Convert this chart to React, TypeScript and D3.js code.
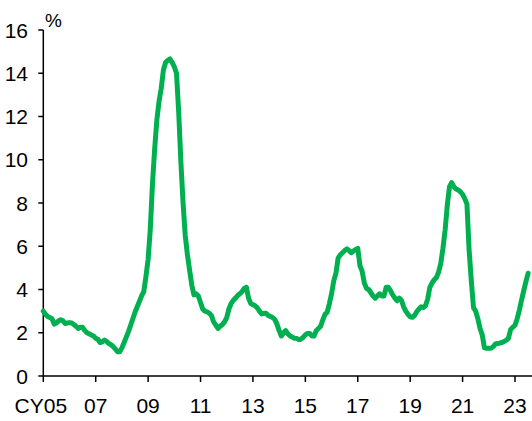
import React, { useRef, useEffect } from 'react';
import * as d3 from 'd3';

// monthly rate, %, Jan of each year onwards
const y2005 = [3.0, 2.85, 2.75, 2.7, 2.65, 2.4, 2.45, 2.55, 2.6, 2.55, 2.43, 2.45];
const y2006 = [2.47, 2.45, 2.38, 2.3, 2.2, 2.25, 2.25, 2.1, 2.0, 1.95, 1.9, 1.85];
const y2007 = [1.75, 1.7, 1.55, 1.58, 1.66, 1.6, 1.5, 1.45, 1.36, 1.25, 1.12, 1.12];
const y2008 = [1.3, 1.55, 1.8, 2.05, 2.35, 2.65, 2.95, 3.2, 3.45, 3.7, 3.9, 4.6];
const y2009 = [5.4, 6.8, 8.9, 10.5, 11.84, 12.7, 13.3, 14.15, 14.5, 14.6, 14.66, 14.5];
const y2010 = [14.3, 14.0, 12.2, 9.9, 8.0, 6.5, 5.6, 4.9, 4.2, 3.75, 3.8, 3.7];
const y2011 = [3.4, 3.1, 3.0, 2.97, 2.9, 2.8, 2.5, 2.35, 2.2, 2.3, 2.38, 2.5];
const y2012 = [2.7, 3.1, 3.35, 3.5, 3.6, 3.72, 3.8, 3.9, 4.05, 4.1, 3.6, 3.35];
const y2013 = [3.3, 3.25, 3.15, 3.0, 2.87, 2.9, 2.9, 2.8, 2.75, 2.7, 2.62, 2.4];
const y2014 = [2.1, 1.85, 2.0, 2.1, 1.95, 1.85, 1.8, 1.75, 1.74, 1.68, 1.7, 1.79];
const y2015 = [1.9, 1.97, 1.97, 1.85, 1.85, 2.1, 2.2, 2.3, 2.6, 2.85, 2.95, 3.35];
const y2016 = [3.8, 4.4, 4.75, 5.45, 5.6, 5.7, 5.8, 5.88, 5.8, 5.7, 5.78, 5.85];
const y2017 = [5.9, 5.1, 4.85, 4.3, 4.05, 4.0, 3.85, 3.7, 3.6, 3.7, 3.8, 3.7];
const y2018 = [3.7, 4.1, 4.1, 3.95, 3.75, 3.6, 3.48, 3.6, 3.5, 3.2, 3.0, 2.85];
const y2019 = [2.74, 2.72, 2.8, 2.97, 3.1, 3.2, 3.17, 3.25, 3.55, 4.1, 4.3, 4.45];
const y2020 = [4.55, 4.8, 5.2, 5.9, 6.75, 7.9, 8.75, 8.94, 8.75, 8.65, 8.6, 8.52];
const y2021 = [8.4, 8.2, 7.95, 5.8, 4.4, 3.15, 3.0, 2.65, 2.2, 1.9, 1.3, 1.28];
const y2022 = [1.28, 1.28, 1.35, 1.48, 1.5, 1.52, 1.55, 1.6, 1.65, 1.75, 2.15, 2.25];
const y2023 = [2.35, 2.65, 3.05, 3.5, 3.95, 4.36, 4.75];

const years = [
  y2005, y2006, y2007, y2008, y2009, y2010, y2011, y2012, y2013, y2014,
  y2015, y2016, y2017, y2018, y2019, y2020, y2021, y2022, y2023,
];

const yTicks = [0, 2, 4, 6, 8, 10, 12, 14, 16];
const xTicks = [2005, 2007, 2009, 2011, 2013, 2015, 2017, 2019, 2021, 2023];
const xTickLabels = ['CY05', '07', '09', '11', '13', '15', '17', '19', '21', '23'];

const width = 532;
const height = 421;
const font = 'Arial, "Liberation Sans", sans-serif';

const App = () => {
  const ref = useRef(null);

  useEffect(() => {
    const svg = d3.select(ref.current);
    svg.selectAll('*').remove();

    const data = [];
    years.forEach((vals, i) => {
      vals.forEach((v, m) => data.push({ t: 2005 + i + m / 12, v }));
    });

    const x = d3.scaleLinear().domain([2005, 2023]).range([43.3, 515]);
    const y = d3.scaleLinear().domain([0, 16]).range([376, 30]);

    // axes
    svg.append('line')
      .attr('x1', x(2005)).attr('x2', width)
      .attr('y1', y(0)).attr('y2', y(0))
      .attr('stroke', '#000').attr('stroke-width', 1.5);
    svg.append('line')
      .attr('x1', x(2005)).attr('x2', x(2005))
      .attr('y1', y(16)).attr('y2', y(0))
      .attr('stroke', '#000').attr('stroke-width', 1.5);

    svg.selectAll('.ytick')
      .data(yTicks)
      .enter()
      .append('line')
      .attr('x1', x(2005) - 5).attr('x2', x(2005))
      .attr('y1', d => y(d)).attr('y2', d => y(d))
      .attr('stroke', '#000').attr('stroke-width', 1.5);

    svg.selectAll('.ylab')
      .data(yTicks)
      .enter()
      .append('text')
      .attr('x', 28)
      .attr('y', d => y(d) + 7.5)
      .attr('text-anchor', 'end')
      .style('font-family', font)
      .style('font-size', '21px')
      .text(d => d);

    svg.selectAll('.xtick')
      .data(xTicks)
      .enter()
      .append('line')
      .attr('x1', d => x(d)).attr('x2', d => x(d))
      .attr('y1', y(0)).attr('y2', y(0) + 6)
      .attr('stroke', '#000').attr('stroke-width', 1.5);

    svg.selectAll('.xlab')
      .data(xTicks)
      .enter()
      .append('text')
      .attr('x', (d, i) => x(d) - (i === 0 ? 2.5 : 0))
      .attr('y', 413)
      .attr('text-anchor', 'middle')
      .style('font-family', font)
      .style('font-size', '21px')
      .text((d, i) => xTickLabels[i]);

    svg.append('text')
      .attr('x', 45)
      .attr('y', 27)
      .style('font-family', font)
      .style('font-size', '19px')
      .text('%');

    const line = d3.line()
      .x(d => x(d.t))
      .y(d => y(d.v));

    svg.append('path')
      .datum(data)
      .attr('d', line)
      .attr('fill', 'none')
      .attr('stroke', '#00B050')
      .attr('stroke-width', 5)
      .attr('stroke-linejoin', 'round')
      .attr('stroke-linecap', 'round');
  }, []);

  return (
    <svg
      ref={ref}
      width={width}
      height={height}
      style={{ position: 'absolute', left: 0, top: 0, background: 'white' }}
    />
  );
};

export default App;
